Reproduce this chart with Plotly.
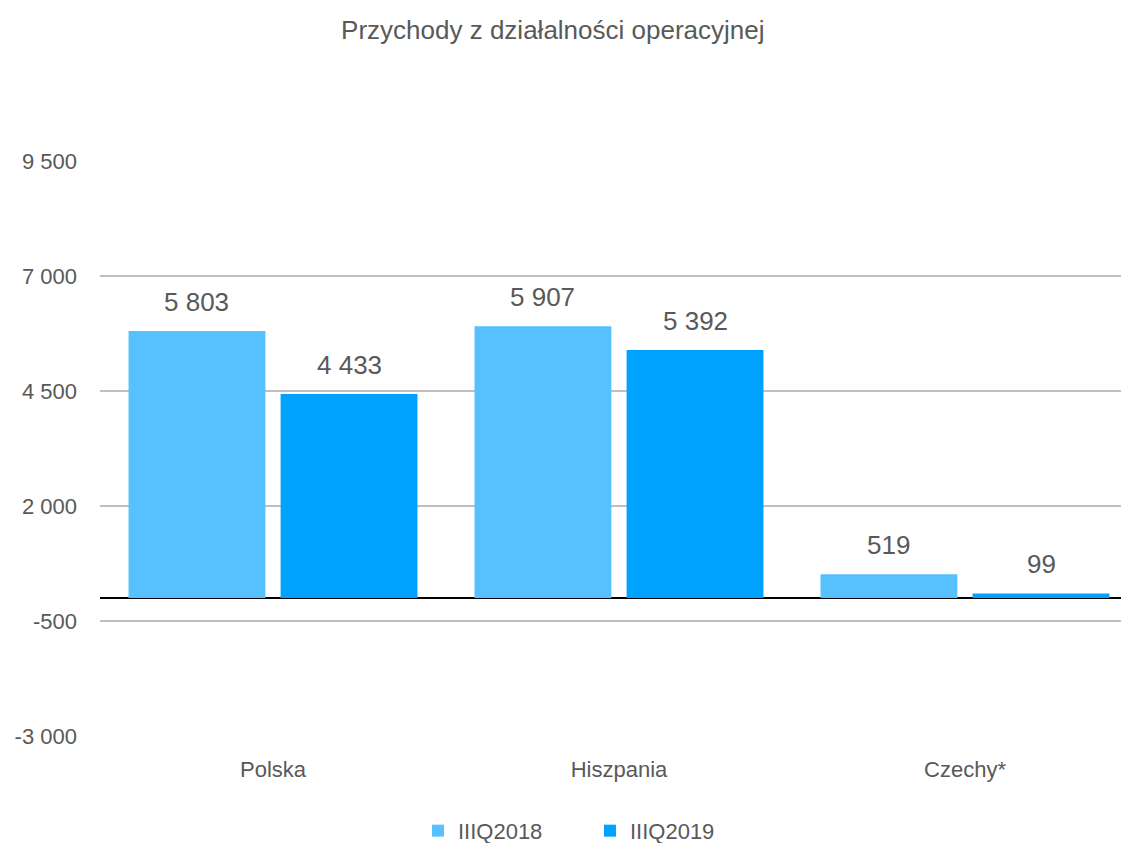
import plotly.graph_objects as go

categories = ["Polska", "Hiszpania", "Czechy*"]
series_names = ["IIIQ2018", "IIIQ2019"]
values_2018 = [5803, 5907, 519]
values_2019 = [4433, 5392, 99]
y_tickvals = [-3000, -500, 2000, 4500, 7000, 9500]
y_ticktext = ["-3 000", "-500", "2 000", "4 500", "7 000", "9 500"]

colors = ["#57C1FF", "#00A2FF"]
text_color = "#595959"
font_family = "Liberation Sans, Arial, sans-serif"

# page body has an 8px default margin, so the figure is sized to fit
W, H = 1121, 835
margin = dict(l=92, r=0, t=153, b=107, autoexpand=False)
bargap = 0.121
x_range = [-0.5, 2.474]

fig = go.Figure()
all_series = [values_2018, values_2019]
for name, vals, col in zip(series_names, all_series, colors):
    fig.add_trace(go.Bar(x=categories, y=vals, name=name, marker=dict(color=col, line=dict(width=0))))


def fmt(v):
    return f"{v:,}".replace(",", " ")

# data labels placed above the bars
plot_w = W - margin["l"] - margin["r"]
unit_px = plot_w / (x_range[1] - x_range[0])
slot_px = unit_px * (1 - bargap) / 2
for si, vals in enumerate(all_series):
    shift = (si - 0.5) * slot_px
    for c, v in zip(categories, vals):
        fig.add_annotation(x=c, y=v, text=fmt(v), showarrow=False, xref="x", yref="y",
                           xshift=shift, yshift=12, yanchor="bottom",
                           font=dict(size=26, color=text_color, family=font_family))

fig.update_layout(
    width=W, height=H,
    margin=margin,
    paper_bgcolor="white", plot_bgcolor="white",
    barmode="group", bargap=bargap, bargroupgap=0.1,
    font=dict(family=font_family, color=text_color, size=22),
    title=dict(text="Przychody z działalności operacyjnej", x=0.486, xanchor="center",
               y=0.974, yanchor="middle", yref="container",
               font=dict(size=26, color=text_color, family=font_family)),
    legend=dict(orientation="h", x=0.309, xanchor="left",
                y=-0.165, yanchor="middle", font=dict(size=22, color=text_color),
                itemwidth=30, entrywidth=127, traceorder="normal"),
    xaxis=dict(range=x_range, showgrid=False, showline=False, ticks="", automargin=False,
               tickfont=dict(size=22, color=text_color), ticklabelstandoff=18),
    yaxis=dict(range=[-3000, 9500], tickvals=y_tickvals, ticktext=y_ticktext, automargin=False,
               showgrid=True, gridcolor="#BFBFBF", gridwidth=2,
               zeroline=True, zerolinecolor="black", zerolinewidth=2,
               showline=False, ticks="", tickfont=dict(size=22, color=text_color),
               ticklabelstandoff=22),
)

fig.write_html("out.html")
